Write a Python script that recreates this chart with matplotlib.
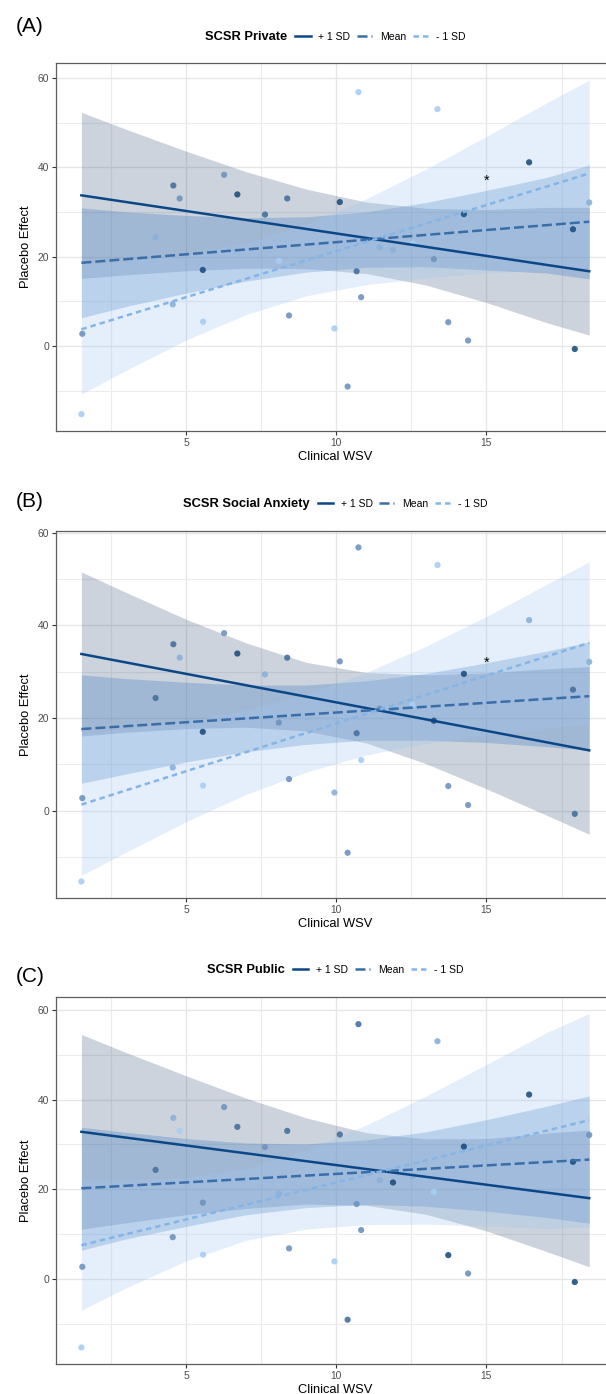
import matplotlib
matplotlib.use("Agg", force=True)
import matplotlib.pyplot as plt
import numpy as np
from matplotlib.colors import LinearSegmentedColormap
from matplotlib.lines import Line2D
from matplotlib.ticker import MultipleLocator

plt.rcParams["font.family"] = ["Liberation Sans", "DejaVu Sans"]

# participants: clinical WSV vs placebo effect (same points in every panel)
wsv = [1.52, 1.55, 3.99, 4.58, 4.79, 4.56, 5.57, 5.56, 6.27, 6.71, 7.63, 8.09, 8.37, 8.43, 9.94, 10.12,
       10.38, 10.74, 10.68, 10.83, 11.45, 11.89, 12.54, 13.25, 13.37, 13.73, 14.25, 14.39, 16.42, 17.88, 17.94, 18.42]
placebo = [-15.3, 2.7, 24.3, 35.9, 33.0, 9.3, 5.4, 17.0, 38.3, 33.9, 29.4, 19.0, 33.0, 6.8, 3.9, 32.2,
           -9.1, 56.8, 16.7, 10.9, 22.0, 21.5, 22.9, 19.4, 53.0, 5.3, 29.5, 1.2, 41.1, 26.1, -0.7, 32.1]

# moderator level of each participant (0 = low, 4 = high), one list per panel
shade_private = [0, 2, 1, 3, 2, 1, 0, 4, 2, 4, 3, 0, 3, 2, 0, 4, 2, 0, 3, 2, 1, 1, 0, 2, 0, 2, 4, 2, 4, 4, 4, 1]
shade_social = [0, 2, 3, 3, 1, 1, 0, 4, 2, 4, 1, 2, 3, 2, 1, 2, 2, 2, 3, 0, 2, 1, 0, 4, 0, 2, 4, 2, 1, 3, 3, 1]
shade_public = [0, 2, 3, 1, 0, 2, 0, 2, 2, 3, 2, 1, 3, 2, 0, 3, 3, 3, 2, 2, 1, 4, 1, 0, 1, 4, 4, 2, 4, 4, 4, 2]

# x positions where the confidence bands were read
band_x = [1.52, 3, 5, 7, 9, 11, 13, 15, 17, 18.42]

# SCSR Private
private_hi_ends = [33.7, 16.7]
private_hi_up = [52.3, 48.5, 43.6, 39.0, 35.1, 32.2, 30.8, 30.5, 31.0, 31.0]
private_hi_lo = [15.1, 15.9, 16.8, 17.4, 17.3, 16.2, 13.6, 9.7, 5.2, 2.4]
private_mean_ends = [18.6, 27.8]
private_mean_up = [30.9, 30.0, 29.2, 28.7, 28.9, 30.0, 32.1, 34.8, 37.7, 40.5]
private_mean_lo = [6.3, 8.8, 11.8, 14.5, 16.5, 17.6, 17.7, 17.0, 16.3, 15.0]
private_lo_ends = [3.7, 38.6]
private_lo_up = [18.2, 18.9, 20.5, 23.0, 27.2, 32.9, 39.6, 46.9, 54.4, 59.5]
private_lo_lo = [-10.8, -5.5, 1.3, 7.0, 11.2, 13.7, 15.2, 16.3, 17.0, 17.7]

# SCSR Social Anxiety
social_hi_ends = [33.8, 13.0]
social_hi_up = [51.5, 47.1, 41.3, 36.2, 32.0, 29.8, 29.3, 29.7, 30.6, 31.1]
social_hi_lo = [16.1, 16.9, 17.7, 18.0, 17.2, 14.6, 10.1, 4.7, -1.0, -5.1]
social_mean_ends = [17.6, 24.7]
social_mean_up = [29.3, 28.5, 27.7, 27.1, 27.1, 28.0, 29.6, 31.9, 34.4, 36.4]
social_mean_lo = [5.9, 7.9, 10.5, 12.7, 14.3, 15.2, 15.2, 14.7, 13.8, 13.0]
social_lo_ends = [1.3, 36.2]
social_lo_up = [16.6, 17.7, 19.4, 21.7, 25.1, 29.8, 35.5, 41.9, 48.8, 53.7]
social_lo_lo = [-14.0, -9.0, -2.4, 3.5, 8.3, 12.0, 14.5, 16.3, 17.8, 18.7]

# SCSR Public
public_hi_ends = [32.8, 18.0]
public_hi_up = [54.5, 50.5, 45.3, 40.3, 35.9, 32.6, 31.2, 31.3, 32.5, 33.2]
public_hi_lo = [11.1, 12.5, 14.3, 15.7, 16.7, 16.4, 14.4, 10.7, 6.1, 2.7]
public_mean_ends = [20.2, 26.6]
public_mean_up = [33.8, 32.7, 31.3, 30.3, 30.1, 31.0, 32.8, 35.5, 38.5, 40.8]
public_mean_lo = [6.4, 8.9, 11.7, 14.3, 15.9, 16.6, 16.2, 15.1, 13.7, 12.4]
public_lo_ends = [7.5, 35.4]
public_lo_up = [22.0, 22.0, 22.6, 24.6, 28.7, 34.3, 40.8, 47.8, 54.9, 59.2]
public_lo_lo = [-7.0, -2.0, 4.0, 8.6, 11.1, 12.1, 12.2, 11.8, 11.2, 11.5]

# significance marks
star_x = [15, 15]
star_y = [37.8, 32.9]

level_labels = ["+ 1 SD", "Mean", "- 1 SD"]
line_colors = ["#0b4786", "#3a6ea8", "#85b5e6"]
line_styles = ["-", (0, (4, 1.6)), (0, (2.2, 1.6))]
band_colors = ["#4a6186", "#3f7cc0", "#9ec6f2"]
band_alpha = [0.28, 0.3, 0.28]
point_cmap = LinearSegmentedColormap.from_list("pts", ["#a8cdf4", "#6f93be", "#1e4f80"])

panels = [
    ("(A)", "SCSR Private", shade_private,
     [(private_hi_ends, private_hi_lo, private_hi_up),
      (private_mean_ends, private_mean_lo, private_mean_up),
      (private_lo_ends, private_lo_lo, private_lo_up)], [(star_x[0], star_y[0])]),
    ("(B)", "SCSR Social Anxiety", shade_social,
     [(social_hi_ends, social_hi_lo, social_hi_up),
      (social_mean_ends, social_mean_lo, social_mean_up),
      (social_lo_ends, social_lo_lo, social_lo_up)], [(star_x[1], star_y[1])]),
    ("(C)", "SCSR Public", shade_public,
     [(public_hi_ends, public_hi_lo, public_hi_up),
      (public_mean_ends, public_mean_lo, public_mean_up),
      (public_lo_ends, public_lo_lo, public_lo_up)], []),
]

W, H = 606, 1394
ax_left, ax_width = 56, 558.6
ax_tops = [63.4, 530.7, 996.7]
ax_height = 367.5
tag_y = [26.7, 501.7, 976.7]

fig = plt.figure(figsize=(W / 100, H / 100), dpi=100)
renderer = fig.canvas.get_renderer()


def expand(lo, hi, frac=0.05):
    pad = (hi - lo) * frac
    return lo - pad, hi + pad


for idx, (tag, title, shades, fits, stars) in enumerate(panels):
    top = ax_tops[idx]
    ax = fig.add_axes([ax_left / W, 1 - (top + ax_height) / H, ax_width / W, ax_height / H])

    xs = np.array(wsv)
    ys = np.array(placebo)
    ends = [band_x[0], band_x[-1]]

    for k, (line_ends, lo, up) in enumerate(fits):
        ax.fill_between(band_x, lo, up, color=band_colors[k], alpha=band_alpha[k], linewidth=0, zorder=2)

    ax.scatter(xs, ys, s=20, c=np.array(shades) / 4, cmap=point_cmap, vmin=0, vmax=1,
               alpha=0.9, linewidths=0, zorder=3)

    for k, (line_ends, lo, up) in enumerate(fits):
        ax.plot(ends, line_ends, color=line_colors[k], linestyle=line_styles[k], linewidth=1.8,
                dash_capstyle="butt", zorder=4)

    for sx, sy in stars:
        ax.annotate("*", (sx, sy), xytext=(0, -3), textcoords="offset points",
                    ha="center", va="center", fontsize=10.5, color="black", zorder=5)

    all_y = np.concatenate([ys] + [np.array(f[1]) for f in fits] + [np.array(f[2]) for f in fits])
    ax.set_xlim(*expand(xs.min(), xs.max()))
    ax.set_ylim(*expand(all_y.min(), all_y.max()))

    ax.xaxis.set_major_locator(MultipleLocator(5))
    ax.xaxis.set_minor_locator(MultipleLocator(2.5))
    ax.yaxis.set_major_locator(MultipleLocator(20))
    ax.yaxis.set_minor_locator(MultipleLocator(10))
    ax.grid(which="major", color="#e6e6e6", linewidth=1.0)
    ax.grid(which="minor", color="#ececec", linewidth=0.8)
    ax.set_axisbelow(True)
    ax.tick_params(which="major", labelsize=7.4, labelcolor="#4d4d4d", color="#333333",
                   length=3, width=0.8, pad=2)
    ax.tick_params(which="minor", length=0)
    for sp in ax.spines.values():
        sp.set_color("#5e5e5e")
        sp.set_linewidth(0.9)

    ax.set_xlabel("Clinical WSV", fontsize=9.3, labelpad=2)
    ax.set_ylabel("Placebo Effect", fontsize=9.3, labelpad=4)

    fig.text(30 / W, 1 - tag_y[idx] / H, tag, fontsize=15, ha="center", va="center")

    # legend row: bold title followed by the three keys, centred over the panel
    handles = [Line2D([0], [0], color=line_colors[k], linestyle=line_styles[k], linewidth=1.8)
               for k in range(3)]
    key_y = 1.073
    leg = ax.legend(handles, level_labels, loc="center left", bbox_to_anchor=(0, key_y),
                    ncol=3, frameon=False, fontsize=7.5, handlelength=1.45, handletextpad=0.75,
                    columnspacing=0.65, borderpad=0, borderaxespad=0)
    ttl = ax.text(0, key_y, title, transform=ax.transAxes, ha="left", va="center",
                  fontsize=9.3, fontweight="bold")
    wt = ttl.get_window_extent(renderer).width
    wl = leg.get_window_extent(renderer).width
    gap = 8
    start = ax_width / 2 - (wt + gap + wl) / 2
    ttl.set_x(start / ax_width)
    leg.set_bbox_to_anchor(((start + wt + gap) / ax_width, key_y), transform=ax.transAxes)

fig.savefig("out.png", dpi=100)
